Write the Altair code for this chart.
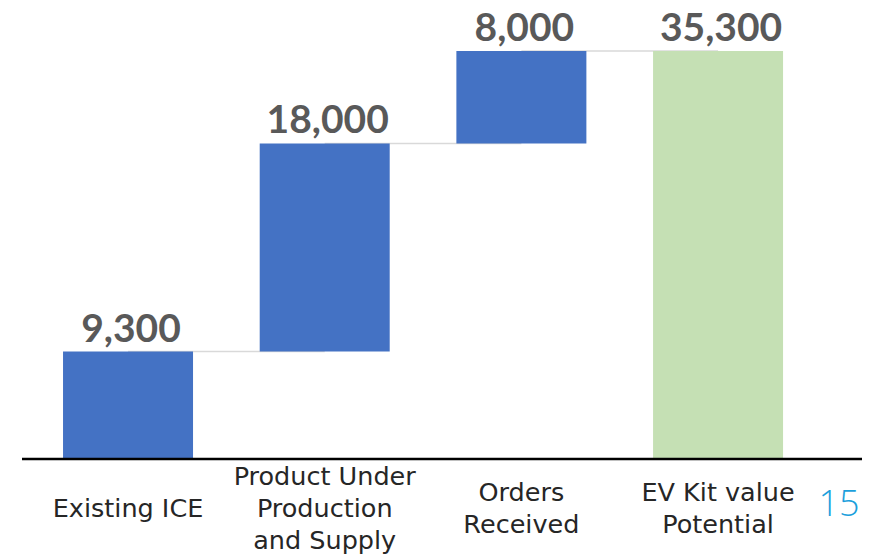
import altair as alt
import pandas as pd

categories = ["Existing ICE", "Product Under Production and Supply", "Orders Received", "EV Kit value Potential"]
labels = ["Existing ICE", "Product Under\nProduction\nand Supply", "Orders\nReceived", "EV Kit value\nPotential"]
values = [9300, 18000, 8000, 35300]
is_total = [False, False, False, True]
page_number = "15"

starts, ends = [], []
run = 0
for v, t in zip(values, is_total):
    if t:
        starts.append(0)
        ends.append(v)
        run = v
    else:
        starts.append(run)
        ends.append(run + v)
        run += v

df = pd.DataFrame({
    "cat": categories,
    "label": labels,
    "start": starts,
    "end": ends,
    "val": values,
    "kind": ["total" if t else "step" for t in is_total],
    "txt": [f"{v:,}" for v in values],
})
conn = pd.DataFrame({
    "cat": categories[:-1],
    "next": categories[1:],
    "level": ends[:-1],
})

W, H = 840, 451
xscale = alt.Scale(domain=categories, paddingInner=0.339, paddingOuter=0.305, align=0.342)
yscale = alt.Scale(domain=[0, 39020], nice=False, zero=True)
xenc = alt.X("cat:N", scale=xscale, sort=categories, axis=None)

rules = alt.Chart(conn).mark_rule(color="#D9D9D9", strokeWidth=1.5).encode(
    x=alt.X("cat:N", scale=xscale, sort=categories, axis=None),
    x2="next:N",
    y=alt.Y("level:Q", scale=yscale, axis=None),
)

bars = alt.Chart(df).mark_bar().encode(
    x=xenc,
    y=alt.Y("start:Q", scale=yscale, axis=None),
    y2="end:Q",
    color=alt.Color("kind:N", scale=alt.Scale(domain=["step", "total"], range=["#4472C4", "#C5E0B4"]), legend=None),
)

baseline = alt.Chart(pd.DataFrame({"z": [0]})).mark_rule(color="#000000", strokeWidth=2.5).encode(
    x=alt.value(0), x2=alt.value(W),
    y=alt.Y("z:Q", scale=yscale, axis=None),
)

vals = alt.Chart(df).mark_text(font="Lato", fontWeight="bold", fontSize=39, color="#595959",
                               baseline="alphabetic", dy=-10, dx=3).encode(
    x=alt.X("cat:N", scale=xscale, sort=categories, axis=None),
    y=alt.Y("end:Q", scale=yscale, axis=None),
    text="txt:N",
)

cat_labels = alt.Chart(df).transform_calculate(
    ly="501 - (length(split(datum.label, '\\n')) - 1) * 16"
).mark_text(font="DejaVu Sans", fontSize=25.5, color="#262626",
            baseline="middle", lineBreak="\n", lineHeight=32).encode(
    x=alt.X("cat:N", scale=xscale, sort=categories, axis=None),
    y=alt.Y("ly:Q", scale=None, axis=None),
    text="label:N",
)

pn = alt.Chart(pd.DataFrame({"t": [page_number]})).mark_text(
    font="Open Sans", fontSize=36, fontWeight=300, color="#1CA0DC", baseline="middle", align="center"
).encode(x=alt.value(817), y=alt.value(497), text="t:N")

chart = alt.layer(rules, bars, baseline, vals, cat_labels, pn).properties(
    width=W, height=H,
    autosize=alt.AutoSizeParams(type="none"),
    padding={"left": 14, "top": 0, "right": 12, "bottom": 96},
).configure_view(stroke=None)

chart.save("out.html", embed_options={"renderer": "svg", "actions": False})
